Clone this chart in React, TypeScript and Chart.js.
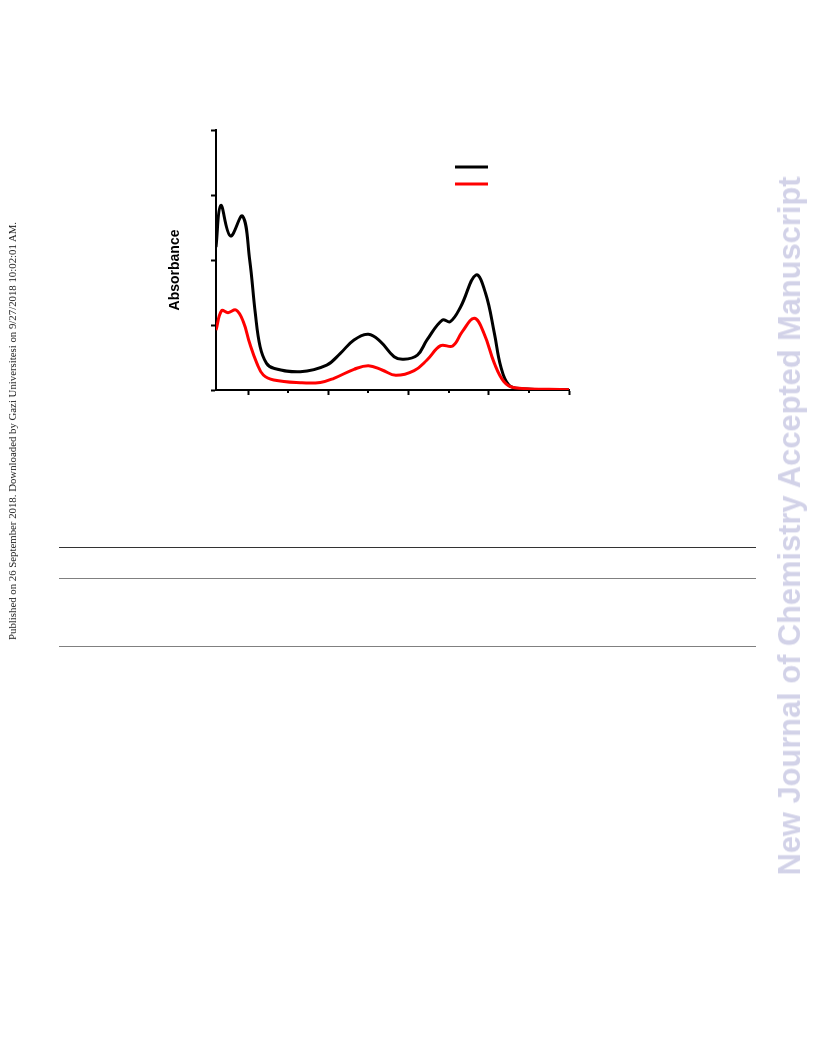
import React, { useEffect, useRef } from "react";
import { Chart, registerables } from "chart.js";

Chart.register(...registerables);

// Wavelength (nm) and absorbance
const wavelengthBlack = [260, 266, 278, 293, 302, 309, 315, 323, 332, 365, 398, 415, 432, 450, 465, 482, 494, 511, 523, 542, 552, 565, 584, 596, 607, 615, 625, 640, 700];
const absorbanceBlack = [1.10, 1.42, 1.185, 1.338, 1.0, 0.59, 0.333, 0.205, 0.167, 0.141, 0.192, 0.282, 0.385, 0.428, 0.372, 0.256, 0.236, 0.269, 0.385, 0.538, 0.526, 0.641, 0.885, 0.744, 0.436, 0.18, 0.038, 0.01, 0.002];

const wavelengthRed = [260, 267, 275, 285, 294, 302, 311, 319, 332, 365, 390, 407, 432, 450, 467, 484, 507, 523, 540, 555, 567, 582, 594, 607, 619, 632, 700];
const absorbanceRed = [0.46, 0.61, 0.595, 0.615, 0.526, 0.359, 0.205, 0.115, 0.077, 0.056, 0.058, 0.09, 0.159, 0.187, 0.154, 0.113, 0.149, 0.231, 0.341, 0.338, 0.449, 0.551, 0.436, 0.205, 0.064, 0.018, 0.002];

const seriesNames = ["Series 1", "Series 2"];
const seriesColors = ["#000000", "#ff0000"];

const xMajorTicks = [300, 400, 500, 600, 700];
const xMinorTicks = [350, 450, 550, 650];
const yTicks = [0, 0.5, 1.0, 1.5, 2.0];
const yTitle = "Absorbance";

const sideNote = "Published on 26 September 2018. Downloaded by Gazi Universitesi on 9/27/2018 10:02:01 AM.";
const watermark = "New Journal of Chemistry Accepted Manuscript";

const decorPlugin = {
  id: "decor",
  afterDraw(chart: any) {
    const { ctx, chartArea, scales } = chart;
    const xs = scales.x;
    ctx.save();
    // minor ticks
    ctx.strokeStyle = "#000";
    ctx.lineWidth = 2;
    xMinorTicks.forEach((v) => {
      const px = Math.round(xs.getPixelForValue(v));
      ctx.beginPath();
      ctx.moveTo(px, chartArea.bottom);
      ctx.lineTo(px, chartArea.bottom + 3);
      ctx.stroke();
    });
    // legend lines (no text in the reference)
    chart.data.datasets.forEach((ds: any, i: number) => {
      const y = chartArea.top + 37 + i * 17;
      ctx.strokeStyle = ds.borderColor;
      ctx.lineWidth = 3;
      ctx.beginPath();
      ctx.moveTo(chartArea.left + 239, y);
      ctx.lineTo(chartArea.left + 272, y);
      ctx.stroke();
    });
    // y title
    ctx.translate(chartArea.left - 41, chartArea.top + 140);
    ctx.rotate(-Math.PI / 2);
    ctx.fillStyle = "#000";
    ctx.font = 'bold 14px "Liberation Sans", Arial, sans-serif';
    ctx.textAlign = "center";
    ctx.textBaseline = "middle";
    ctx.fillText(yTitle, 0, 0);
    ctx.restore();
  },
};

export default function App() {
  const canvasRef = useRef<HTMLCanvasElement | null>(null);

  useEffect(() => {
    if (!canvasRef.current) return;
    const chart = new Chart(canvasRef.current, {
      type: "line",
      data: {
        datasets: [
          {
            label: seriesNames[0],
            data: wavelengthBlack.map((x, i) => ({ x, y: absorbanceBlack[i] })),
            borderColor: seriesColors[0],
            borderWidth: 3,
            pointRadius: 0,
            tension: 0.4,
            fill: false,
            order: 1,
          },
          {
            label: seriesNames[1],
            data: wavelengthRed.map((x, i) => ({ x, y: absorbanceRed[i] })),
            borderColor: seriesColors[1],
            borderWidth: 3,
            pointRadius: 0,
            tension: 0.4,
            fill: false,
            order: 0,
          },
        ],
      },
      options: {
        responsive: false,
        animation: false,
        layout: { padding: { left: 150, top: 130, right: 247, bottom: 20 } },
        plugins: { legend: { display: false }, tooltip: { enabled: false } },
        scales: {
          x: {
            type: "linear",
            min: 260,
            max: 700,
            afterBuildTicks: (s: any) => {
              s.ticks = xMajorTicks.map((v) => ({ value: v }));
            },
            afterFit: (s: any) => {
              s.height = 10;
            },
            ticks: { display: false },
            grid: { drawOnChartArea: false, tickLength: 5, tickWidth: 2, tickColor: "#000" },
            border: { color: "#000", width: 2 },
          },
          y: {
            type: "linear",
            min: 0,
            max: 2,
            afterBuildTicks: (s: any) => {
              s.ticks = yTicks.map((v) => ({ value: v }));
            },
            afterFit: (s: any) => {
              s.width = 66;
            },
            ticks: { display: false },
            grid: { drawOnChartArea: false, tickLength: 5, tickWidth: 2, tickColor: "#000" },
            border: { color: "#000", width: 2 },
          },
        },
      },
      plugins: [decorPlugin],
    });
    return () => chart.destroy();
  }, []);

  const hLine = (top: number, color: string) => ({
    position: "absolute" as const,
    left: 59,
    top,
    width: 697,
    height: 1,
    background: color,
  });

  return (
    <div style={{ position: "absolute", left: 0, top: 0, width: 816, height: 1056, overflow: "hidden" }}>
      <canvas ref={canvasRef} width={816} height={420} style={{ position: "absolute", left: 0, top: 0, width: 816, height: 420 }} />
      <div
        style={{
          position: "absolute",
          left: 12,
          top: 431,
          transform: "translate(-50%, -50%) rotate(-90deg)",
          whiteSpace: "nowrap",
          fontFamily: '"Liberation Serif", "Times New Roman", serif',
          fontSize: 10.8,
          color: "#222",
        }}
      >
        {sideNote}
      </div>
      <div
        style={{
          position: "absolute",
          left: 790,
          top: 526,
          transform: "translate(-50%, -50%) rotate(-90deg)",
          whiteSpace: "nowrap",
          fontFamily: '"Liberation Sans", Arial, sans-serif',
          fontWeight: "bold",
          fontSize: 30.8,
          color: "rgb(210, 210, 232)",
        }}
      >
        {watermark}
      </div>
      <div style={hLine(547, "#333")} />
      <div style={hLine(578, "#808080")} />
      <div style={hLine(646, "#808080")} />
    </div>
  );
}
